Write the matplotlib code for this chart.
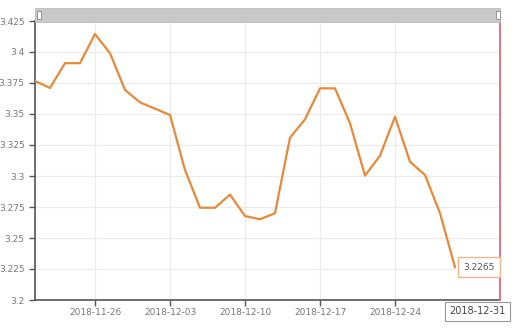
import matplotlib.pyplot as plt
from matplotlib.patches import Rectangle

dates = [
    "2018-11-20", "2018-11-21", "2018-11-22", "2018-11-23",
    "2018-11-26", "2018-11-27", "2018-11-28", "2018-11-29", "2018-11-30",
    "2018-12-03", "2018-12-04", "2018-12-05", "2018-12-06", "2018-12-07",
    "2018-12-10", "2018-12-11", "2018-12-12", "2018-12-13", "2018-12-14",
    "2018-12-17", "2018-12-18", "2018-12-19", "2018-12-20", "2018-12-21",
    "2018-12-24", "2018-12-25", "2018-12-26", "2018-12-27", "2018-12-28",
]
values = [
    3.3766, 3.371, 3.391, 3.391,
    3.4145, 3.399, 3.3694, 3.3594, 3.3543,
    3.3492, 3.3048, 3.2744, 3.2744, 3.285,
    3.2677, 3.2651, 3.27, 3.3309, 3.3457,
    3.3707, 3.3707, 3.3425, 3.3003, 3.3164,
    3.3478, 3.3115, 3.3008, 3.27, 3.2265,
]
yticks = [3.2, 3.225, 3.25, 3.275, 3.3, 3.325, 3.35, 3.375, 3.4, 3.425]
pointer_label = "2018-12-31"
n_slots = 31

fig = plt.figure(figsize=(5.2, 3.28), dpi=100)
ax = fig.add_axes([35 / 520, 28 / 328, 465 / 520, 279 / 328])

x = list(range(len(values)))
ax.plot(x, values, color="#E8893A", lw=1.6, zorder=3)

ax.set_xlim(0, n_slots)
ax.set_ylim(3.2, 3.425)
ax.set_yticks(yticks)
ax.set_yticklabels([f"{v:g}" for v in yticks])
tick_idx = list(range(4, len(dates), 5))
ax.set_xticks(tick_idx)
ax.set_xticklabels([dates[i] for i in tick_idx])

ax.grid(True, color="#EBEBEB", lw=0.8, zorder=0)
for s in ["top", "right"]:
    ax.spines[s].set_visible(False)
for s in ["left", "bottom"]:
    ax.spines[s].set_color("#555555")
    ax.spines[s].set_linewidth(1.2)
ax.tick_params(axis="both", colors="#555555", labelcolor="#777777",
               labelsize=6.5, length=4, width=1)
ax.tick_params(axis="x", pad=2)

# axis pointer line
ax.axvline(n_slots, color="#E8707E", lw=1.4, zorder=4, clip_on=False)

# value tooltip at last point
ax.annotate(f"{values[-1]:g}", xy=(len(values) - 1, values[-1]),
            xytext=(6, 0), textcoords="offset points",
            ha="left", va="center", fontsize=6.5, color="#555555",
            bbox=dict(boxstyle="square,pad=0.6", fc="white",
                      ec="#F0B68A", lw=1), zorder=6)

# axis pointer label on x axis
ax.text(29.5, -0.04, pointer_label, transform=ax.get_xaxis_transform(),
        ha="center", va="center", fontsize=7, color="#444444",
        bbox=dict(boxstyle="square,pad=0.45", fc="white",
                  ec="#999999", lw=0.8), clip_on=False, zorder=6)

# data zoom slider at top
fig.patches.append(Rectangle((35 / 520, (328 - 22) / 328), 465 / 520, 14 / 328,
                             transform=fig.transFigure, fc="#C8C8C8",
                             ec="#BBBBBB", lw=0.6))
for hx in [37 / 520, 496 / 520]:
    fig.patches.append(Rectangle((hx, (328 - 19) / 328), 4 / 520, 8 / 328,
                                 transform=fig.transFigure, fc="white",
                                 ec="#888888", lw=0.6))

fig.savefig("out.png", dpi=100)
